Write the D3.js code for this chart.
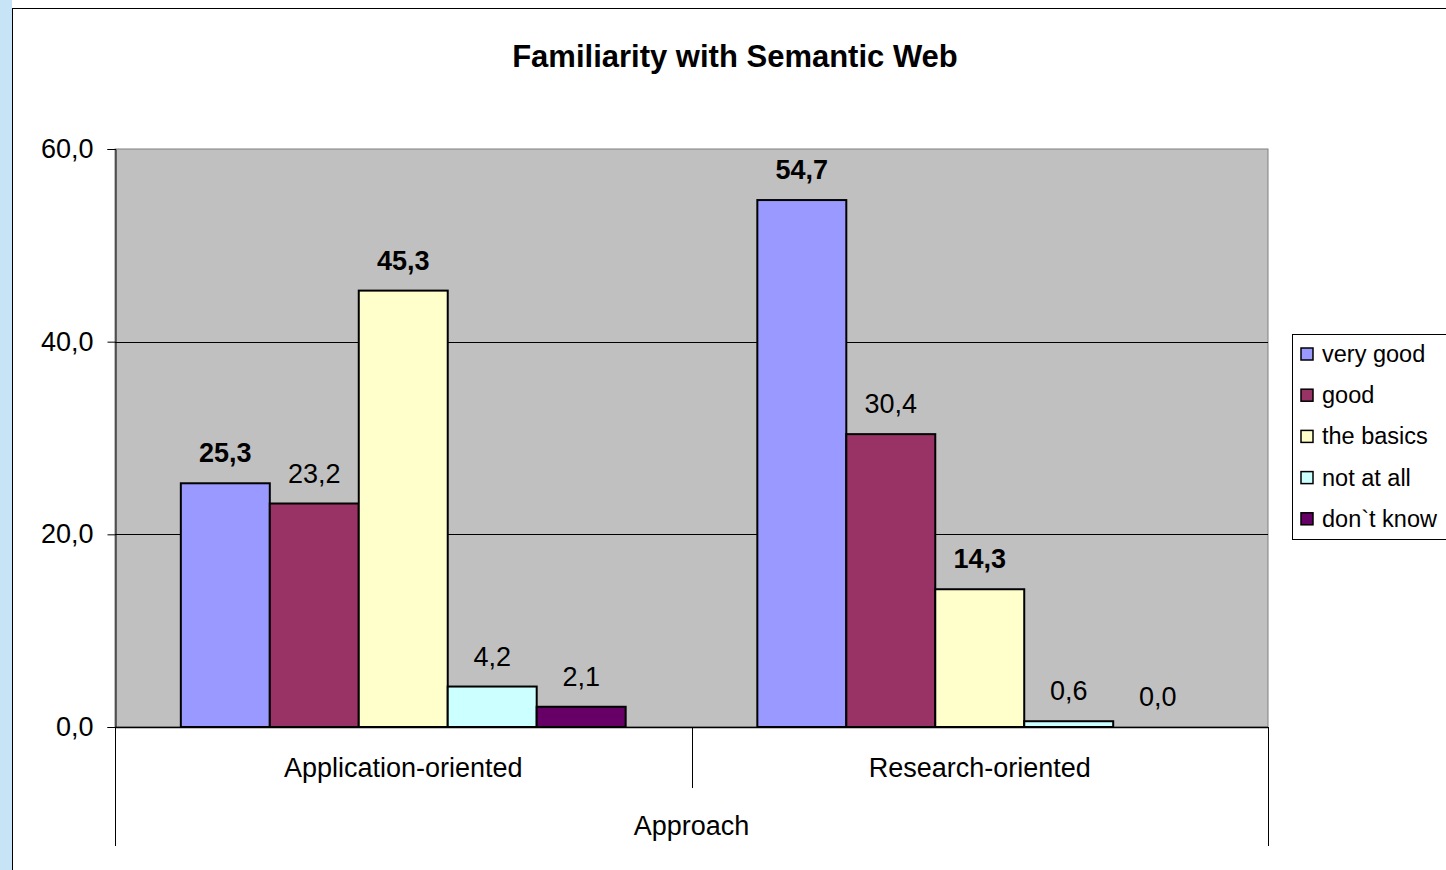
<!DOCTYPE html>
<html>
<head>
<meta charset="utf-8">
<script src="https://cdn.jsdelivr.net/npm/d3@7"></script>
<style>
  body { margin: 0; background: #fff; }
  text { font-family: "Liberation Sans", Arial, sans-serif; fill: #000; }
</style>
</head>
<body>
<div id="main"></div>
<script>
// data
var categories = ['Application-oriented', 'Research-oriented'];
var seriesNames = ['very good', 'good', 'the basics', 'not at all', 'don`t know'];
var veryGood = [25.3, 54.7];
var good = [23.2, 30.4];
var basics = [45.3, 14.3];
var notAtAll = [4.2, 0.6];
var dontKnow = [2.1, 0.0];
var boldSeries = ['very good', 'the basics'];
var yTicks = [0, 20, 40, 60];

var colors = ['#9999ff', '#993366', '#ffffcc', '#ccffff', '#660066'];
var seriesValues = [veryGood, good, basics, notAtAll, dontKnow];

var width = 1446;
var height = 870;

var svg = d3.select('#main')
  .append('svg')
  .attr('width', width)
  .attr('height', height);

// slide background strip + chart frame
svg.append('rect').attr('x', 0).attr('y', 0).attr('width', 12).attr('height', height).attr('fill', '#c6e4f6');
svg.append('rect').attr('x', 12.5).attr('y', 8.5).attr('width', width).attr('height', height)
  .attr('fill', '#fff').attr('stroke', '#000').attr('stroke-width', 1);

var plot = { left: 115, right: 1268, top: 149, bottom: 727 };

var y = d3.scaleLinear().domain([0, 60]).range([plot.bottom, plot.top]);
var x0 = d3.scaleBand().domain(categories).range([plot.left, plot.right]);
var x1 = d3.scaleBand().domain(seriesNames).range([0, x0.bandwidth()]).paddingOuter(0.74);

// plot area
svg.append('rect')
  .attr('x', plot.left).attr('y', plot.top)
  .attr('width', plot.right - plot.left).attr('height', plot.bottom - plot.top)
  .attr('fill', '#c0c0c0').attr('stroke', '#808080').attr('stroke-width', 1);

// gridlines
svg.selectAll('.grid')
  .data(yTicks.filter(function(d) { return d > 0 && d < 60; }))
  .enter().append('line')
  .attr('x1', plot.left).attr('x2', plot.right)
  .attr('y1', function(d) { return Math.round(y(d)) + 0.5; })
  .attr('y2', function(d) { return Math.round(y(d)) + 0.5; })
  .attr('stroke', '#000').attr('stroke-width', 1);

// y axis
var yAxis = svg.append('g')
  .attr('transform', 'translate(' + (plot.left + 0.5) + ',0)')
  .call(d3.axisLeft(y).tickValues(yTicks).tickSize(8).tickPadding(14)
    .tickFormat(function(d) { return d.toFixed(1).replace('.', ','); }));
yAxis.selectAll('text').style('font-size', '27px').attr('font-family', null);
yAxis.select('.domain').attr('stroke', '#000');
yAxis.selectAll('.tick line').attr('stroke', '#000');

// bars
var groups = svg.selectAll('.group')
  .data(categories)
  .enter().append('g')
  .attr('transform', function(d) { return 'translate(' + x0(d) + ',0)'; });

groups.selectAll('rect')
  .data(function(c, i) {
    return seriesNames.map(function(s, j) { return { s: s, v: seriesValues[j][i], c: colors[j] }; });
  })
  .enter().append('rect')
  .attr('x', function(d) { return x1(d.s); })
  .attr('y', function(d) { return y(d.v); })
  .attr('width', x1.bandwidth())
  .attr('height', function(d) { return y(0) - y(d.v); })
  .attr('fill', function(d) { return d.c; })
  .attr('stroke', function(d) { return d.v > 0 ? '#000' : 'none'; })
  .attr('stroke-width', 2);

groups.selectAll('.lbl')
  .data(function(c, i) {
    return seriesNames.map(function(s, j) { return { s: s, v: seriesValues[j][i] }; });
  })
  .enter().append('text')
  .attr('class', 'lbl')
  .attr('x', function(d) { return x1(d.s) + x1.bandwidth() / 2; })
  .attr('y', function(d) { return y(d.v) - 21; })
  .attr('text-anchor', 'middle')
  .style('font-size', '27px')
  .style('font-weight', function(d) { return boldSeries.indexOf(d.s) >= 0 ? 'bold' : 'normal'; })
  .text(function(d) { return d.v.toFixed(1).replace('.', ','); });

// x axis line
svg.append('line')
  .attr('x1', plot.left).attr('x2', plot.right)
  .attr('y1', plot.bottom + 0.5).attr('y2', plot.bottom + 0.5)
  .attr('stroke', '#000').attr('stroke-width', 1.5);

// category separators
var seps = [plot.left, x0(categories[1]), plot.right];
svg.selectAll('.sep')
  .data(seps)
  .enter().append('line')
  .attr('x1', function(d) { return Math.round(d) + 0.5; })
  .attr('x2', function(d) { return Math.round(d) + 0.5; })
  .attr('y1', plot.bottom)
  .attr('y2', function(d, i) { return i === 1 ? 788 : 846; })
  .attr('stroke', '#000').attr('stroke-width', 1);

svg.selectAll('.cat')
  .data(categories)
  .enter().append('text')
  .attr('x', function(d) { return x0(d) + x0.bandwidth() / 2; })
  .attr('y', 777)
  .attr('text-anchor', 'middle')
  .style('font-size', '27px')
  .text(function(d) { return d; });

svg.append('text')
  .attr('x', (plot.left + plot.right) / 2)
  .attr('y', 835)
  .attr('text-anchor', 'middle')
  .style('font-size', '27px')
  .text('Approach');

// title
svg.append('text')
  .attr('x', 735)
  .attr('y', 67)
  .attr('text-anchor', 'middle')
  .style('font-size', '31px')
  .style('font-weight', 'bold')
  .text('Familiarity with Semantic Web');

// legend
var legend = svg.append('g').attr('transform', 'translate(1292,334)');
legend.append('rect')
  .attr('x', 0.5).attr('y', 0.5).attr('width', 170).attr('height', 205)
  .attr('fill', '#fff').attr('stroke', '#000').attr('stroke-width', 1);

var items = legend.selectAll('.item')
  .data(seriesNames)
  .enter().append('g')
  .attr('transform', function(d, i) { return 'translate(0,' + (20 + i * 41.2) + ')'; });

items.append('rect')
  .attr('x', 9).attr('y', -6).attr('width', 12).attr('height', 12)
  .attr('fill', function(d, i) { return colors[i]; })
  .attr('stroke', '#000').attr('stroke-width', 1.5);

items.append('text')
  .attr('x', 30).attr('y', 8)
  .style('font-size', '23.5px')
  .text(function(d) { return d; });
</script>
</body>
</html>
